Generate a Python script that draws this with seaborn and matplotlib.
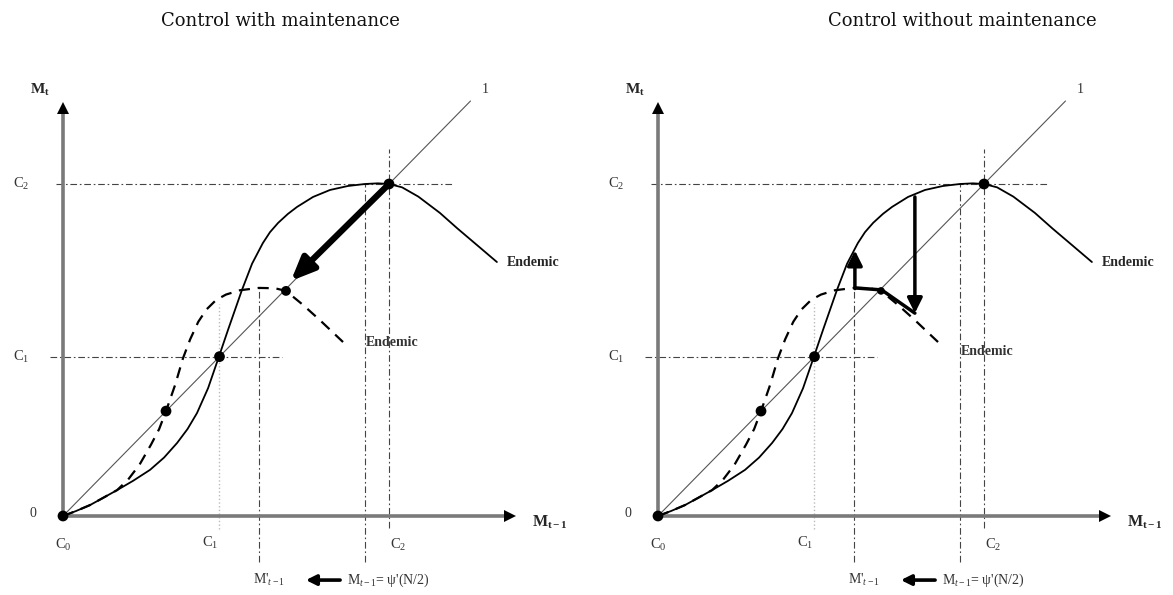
import matplotlib
matplotlib.use("Agg")
import matplotlib.pyplot as plt
import seaborn as sns
import pandas as pd

# x and y in units of C2 (C0 = 0, C2 = 1)
solid_x = [0, 0.04, 0.083, 0.12, 0.166, 0.215, 0.267, 0.31, 0.350, 0.382, 0.411, 0.445, 0.479,
           0.506, 0.549, 0.580, 0.613, 0.635, 0.660, 0.690, 0.718, 0.767, 0.819, 0.874, 0.926,
           0.966, 1.0, 1.04, 1.09, 1.156, 1.21, 1.27, 1.331]
solid_y = [0, 0.015, 0.033, 0.053, 0.078, 0.106, 0.139, 0.176, 0.220, 0.262, 0.310, 0.385, 0.482,
           0.560, 0.681, 0.760, 0.822, 0.855, 0.883, 0.910, 0.931, 0.961, 0.982, 0.994, 1.0,
           1.002, 1.0, 0.99, 0.962, 0.913, 0.866, 0.816, 0.765]

dashed_x = [0, 0.04, 0.083, 0.12, 0.166, 0.20, 0.235, 0.27, 0.295, 0.316, 0.344, 0.368, 0.39,
            0.415, 0.44, 0.47, 0.50, 0.543, 0.601, 0.65, 0.684, 0.736, 0.788, 0.859]
dashed_y = [0, 0.015, 0.033, 0.053, 0.078, 0.11, 0.155, 0.215, 0.262, 0.316, 0.395, 0.475, 0.532,
            0.585, 0.622, 0.651, 0.667, 0.680, 0.687, 0.686, 0.678, 0.636, 0.590, 0.524]

diag_x = [0, 1.25]
diag_y = [0, 1.25]

c1 = 0.48
m_prime = 0.601      # M'_{t-1}
m_psi = 0.926        # M_{t-1} = psi'(N/2)
low_endemic = (0.684, 0.678)
unstable = (0.316, 0.316)

# right panel path (x, y)
path_x = [0.788, 0.686, 0.604, 0.604]
path_y = [0.611, 0.681, 0.687, 0.77]

titles = ["Control with maintenance", "Control without maintenance"]
title_x = [0.666, 0.933]

sns.set_style("white")
plt.rcParams['font.family'] = ['Liberation Serif', 'DejaVu Serif']
plt.rcParams['mathtext.fontset'] = 'custom'
plt.rcParams['mathtext.rm'] = 'Liberation Serif'
plt.rcParams['mathtext.it'] = 'Liberation Serif:italic'
plt.rcParams['mathtext.bf'] = 'Liberation Serif:bold'

fig = plt.figure(figsize=(11.73, 5.95), dpi=100)

AX_W = 578 / 1173
XLIM = (-63 / 326, 515 / 326)
YLIM = (-79 / 332, 516 / 332)

GRAY = '#7a7a7a'
DASHDOT = (0, (6, 2.5, 1.5, 2.5))


def draw_panel(ax, title, tx, maintenance):
    ax.set_xlim(*XLIM)
    ax.set_ylim(*YLIM)
    ax.axis('off')

    # guide lines
    ax.plot([-0.02, 1.193], [1, 1], color='#444', lw=0.8, ls=DASHDOT)
    ax.plot([-0.04, 0.672], [c1, c1], color='#444', lw=0.8, ls=DASHDOT)
    ax.plot([1, 1], [-0.036, 1.105], color='#444', lw=0.8, ls=DASHDOT)
    ax.plot([m_psi, m_psi], [-0.139, 1.0], color='#444', lw=0.8, ls=DASHDOT)
    ax.plot([m_prime, m_prime], [-0.139, 0.687], color='#444', lw=0.8, ls=DASHDOT)
    ax.plot([c1, c1], [-0.04, 0.64], color='#bbbbbb', lw=1.0, ls=':')

    # axes
    ax.plot([0, 0], [0, 1.225], color=GRAY, lw=2.6, solid_capstyle='butt')
    ax.plot([0, 1.36], [0, 0], color=GRAY, lw=2.6, solid_capstyle='butt')
    ax.plot([0], [1.23], marker='^', color='black', ms=9, mew=0)
    ax.plot([1.37], [0], marker='>', color='black', ms=9, mew=0)

    # diagonal and curves
    sns.lineplot(x=diag_x, y=diag_y, ax=ax, color='#555', lw=0.8)
    sns.lineplot(x=dashed_x, y=dashed_y, ax=ax, color='black', lw=1.6,
                 linestyle=(0, (5, 3.5)), sort=False)
    sns.lineplot(x=solid_x, y=solid_y, ax=ax, color='black', lw=1.3, sort=False)

    # equilibria
    pts = pd.DataFrame({'x': [0, unstable[0], c1, 1.0], 'y': [0, unstable[1], c1, 1.0]})
    sns.scatterplot(data=pts, x='x', y='y', ax=ax, color='black', s=60, edgecolor='none', zorder=5)
    sns.scatterplot(x=[low_endemic[0]], y=[low_endemic[1]], ax=ax, color='black',
                    s=50 if maintenance else 30, edgecolor='none', zorder=5)

    if maintenance:
        ax.annotate('', xy=(0.699, 0.708), xytext=(1.0, 1.0),
                    arrowprops=dict(arrowstyle='-|>,head_length=1.4,head_width=0.6',
                                    lw=4.5, color='black', shrinkA=0, shrinkB=0))
    else:
        ax.annotate('', xy=(0.788, 0.611), xytext=(0.788, 0.961),
                    arrowprops=dict(arrowstyle='-|>,head_length=0.9,head_width=0.45',
                                    lw=2.5, color='black', shrinkA=0, shrinkB=0))
        ax.plot(path_x[:3], path_y[:3], color='black', lw=2.5, solid_joinstyle='miter')
        ax.annotate('', xy=(0.604, 0.80), xytext=(0.604, 0.685),
                    arrowprops=dict(arrowstyle='-|>,head_length=0.9,head_width=0.45',
                                    lw=2.5, color='black', shrinkA=0, shrinkB=0))

    # labels
    fs = 10
    ax.text(-0.07, 1.283, r'$\mathbf{M}_\mathbf{t}$', ha='center', va='center', fontsize=fs + 1)
    ax.text(1.294, 1.286, '1', ha='center', va='center', fontsize=fs, color='#333')
    ax.text(-0.128, 1.0, r'C$_2$', ha='center', va='center', fontsize=fs + 0.5, color='#333')
    ax.text(-0.128, c1, r'C$_1$', ha='center', va='center', fontsize=fs + 0.5, color='#333')
    ax.text(-0.092, 0.009, '0', ha='center', va='center', fontsize=fs, color='#333')
    ax.text(0.0, -0.087, r'C$_0$', ha='center', va='center', fontsize=fs + 0.5, color='#333')
    ax.text(0.451, -0.081, r'C$_1$', ha='center', va='center', fontsize=fs + 0.5, color='#333')
    ax.text(1.028, -0.087, r'C$_2$', ha='center', va='center', fontsize=fs + 0.5, color='#333')
    ax.text(1.439, -0.018, r'$\mathbf{M}_{\mathbf{t-1}}$', ha='left', va='center', fontsize=fs + 1.5)
    ax.text(1.36, 0.765, 'Endemic', ha='left', va='center', fontsize=fs, fontweight='bold')
    ax.text(0.93, 0.524 if maintenance else 0.494, 'Endemic', ha='left', va='center',
            fontsize=fs, fontweight='bold', color='#333')
    ax.text(0.632, -0.193, r"M'$_{t-1}$", ha='center', va='center', fontsize=fs, color='#333')
    ax.annotate('', xy=(0.745, -0.193), xytext=(0.85, -0.193),
                arrowprops=dict(arrowstyle='-|>,head_length=0.6,head_width=0.3',
                                lw=2.6, color='black', shrinkA=0, shrinkB=0))
    ax.text(0.871, -0.193, r"M$_{t-1}$= ψ'(N/2)", ha='left', va='center', fontsize=fs, color='#333')

    ax.text(tx, 1.49, title, ha='center', va='center', fontsize=13,
            family='DejaVu Serif', color='#111')


ax_left = fig.add_axes([0, 0, AX_W, 1])
draw_panel(ax_left, titles[0], title_x[0], True)
ax_right = fig.add_axes([595 / 1173, 0, AX_W, 1])
draw_panel(ax_right, titles[1], title_x[1], False)

fig.savefig('out.png', dpi=100)
